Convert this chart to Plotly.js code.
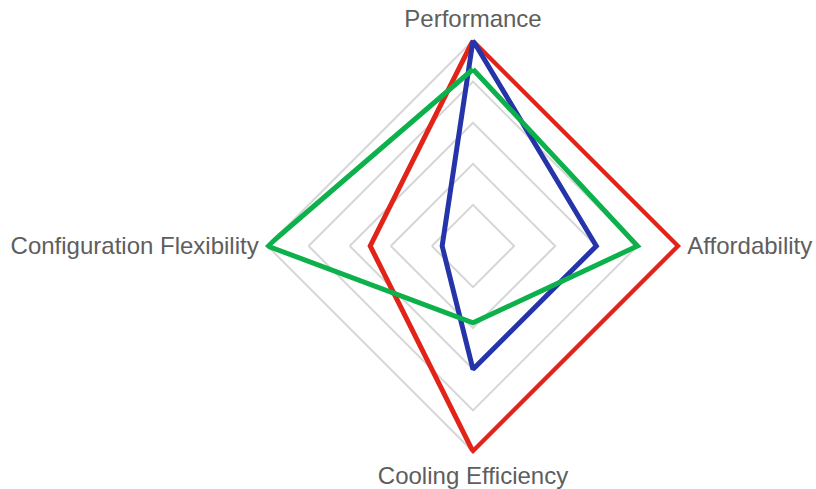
<!DOCTYPE html>
<html>
<head>
<meta charset="utf-8">
<script src="https://cdn.plot.ly/plotly-3.0.1.min.js"></script>
<style>html,body{margin:0;padding:0;background:#fff;}#chart{width:816px;height:489px;}</style>
</head>
<body>
<div id="chart"></div>
<script>
const categories = ["Performance", "Affordability", "Cooling Efficiency", "Configuration Flexibility"];
const redValues = [5, 5, 5, 2.5];
const blueValues = [5, 3, 3, 0.75];
const greenValues = [4.3, 4, 1.87, 5];
const seriesNames = ["Series A", "Series B", "Series C"];
const seriesColors = ["#e2231a", "#2534a8", "#0db14b"];

function closeLoop(arr) { return arr.concat([arr[0]]); }

const allSeries = [redValues, blueValues, greenValues];
const traces = allSeries.map((vals, i) => ({
  type: "scatterpolar",
  r: closeLoop(vals),
  theta: closeLoop(categories),
  mode: "lines",
  name: seriesNames[i],
  cliponaxis: false,
  line: { color: seriesColors[i], width: 5 },
  hoverinfo: "skip"
}));

const layout = {
  width: 816,
  height: 489,
  margin: { l: 140, r: 10, t: 38, b: 35 },
  paper_bgcolor: "#ffffff",
  plot_bgcolor: "#ffffff",
  showlegend: false,
  font: { family: "Liberation Sans, Arial, sans-serif", color: "#5e5e5e", size: 24 },
  polar: {
    bgcolor: "#ffffff",
    gridshape: "linear",
    domain: { x: [0, 1], y: [0, 1] },
    radialaxis: {
      range: [0, 5.06],
      tickvals: [1, 2, 3, 4, 5],
      showticklabels: false,
      ticks: "",
      showline: false,
      gridcolor: "#d6d6d6",
      gridwidth: 2
    },
    angularaxis: {
      direction: "clockwise",
      rotation: 90,
      showline: false,
      ticks: "outside",
      ticklen: 1,
      tickcolor: "rgba(0,0,0,0)",
      showgrid: false,
      tickfont: { size: 24, color: "#5e5e5e" }
    }
  }
};

Plotly.newPlot("chart", traces, layout, { displayModeBar: false, staticPlot: true });
</script>
</body>
</html>
